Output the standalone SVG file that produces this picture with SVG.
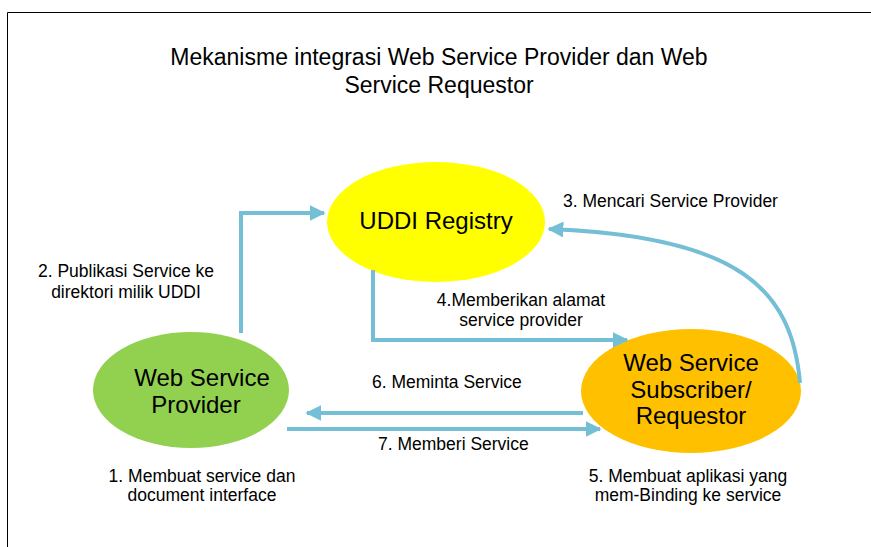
<svg xmlns="http://www.w3.org/2000/svg" width="871" height="547" viewBox="0 0 871 547">
<defs>
<style>
text{font-family:"Liberation Sans",Arial,sans-serif;fill:#000}
.t{font-size:23px;text-anchor:middle}
.n{font-size:24px;text-anchor:middle}
.l{font-size:17.5px}
.c{text-anchor:middle}
.a{fill:none;stroke:#74BFD6;stroke-width:4}
</style>
<marker id="ah" viewBox="0 0 10 10" refX="9" refY="5" markerWidth="4" markerHeight="4" markerUnits="strokeWidth" orient="auto">
<path d="M0,0 L10,5 L0,10 Z" fill="#74BFD6"/>
</marker>
</defs>
<rect width="871" height="547" fill="#fff"/>
<path d="M7.5,547 V12.5 H871" fill="none" stroke="#000" stroke-width="1"/>
<text class="t" x="439" y="65">Mekanisme integrasi Web Service Provider dan Web</text>
<text class="t" x="439" y="93">Service Requestor</text>
<g id="uddi">
<ellipse cx="436" cy="222" rx="109" ry="60" fill="#FFFF00"/>
<text class="n" x="436" y="229">UDDI Registry</text>
</g>
<g id="provider">
<ellipse cx="191" cy="390" rx="98" ry="58" fill="#92D050"/>
<text class="n" x="202" y="386">Web Service</text>
<text class="n" x="196" y="413">Provider</text>
</g>
<g id="requestor">
<ellipse cx="691" cy="391" rx="110" ry="62" fill="#FFC000"/>
<text class="n" x="691" y="371">Web Service</text>
<text class="n" x="691" y="398">Subscriber/</text>
<text class="n" x="691" y="424">Requestor</text>
</g>
<g id="connectors">
<path class="a" d="M241,333 V213 H324" marker-end="url(#ah)"/>
<path class="a" d="M373,270 V340 H627" marker-end="url(#ah)"/>
<path class="a" d="M800,383 C792,290 740,236 549,229" marker-end="url(#ah)"/>
<path class="a" d="M583,413 H307" marker-end="url(#ah)"/>
<path class="a" d="M287,429 H600" marker-end="url(#ah)"/>
</g>
<g id="labels">
<text class="l" x="563" y="207">3. Mencari Service Provider</text>
<text class="l c" x="126" y="277">2. Publikasi Service ke</text>
<text class="l c" x="126" y="298">direktori milik UDDI</text>
<text class="l c" x="521" y="306">4.Memberikan alamat</text>
<text class="l c" x="521" y="326">service provider</text>
<text class="l" x="372" y="388">6. Meminta Service</text>
<text class="l" x="378" y="450">7. Memberi Service</text>
<text class="l c" x="202" y="482">1. Membuat service dan</text>
<text class="l c" x="202" y="501">document interface</text>
<text class="l c" x="688" y="482">5. Membuat aplikasi yang</text>
<text class="l c" x="688" y="501">mem-Binding ke service</text>
</g>
</svg>
